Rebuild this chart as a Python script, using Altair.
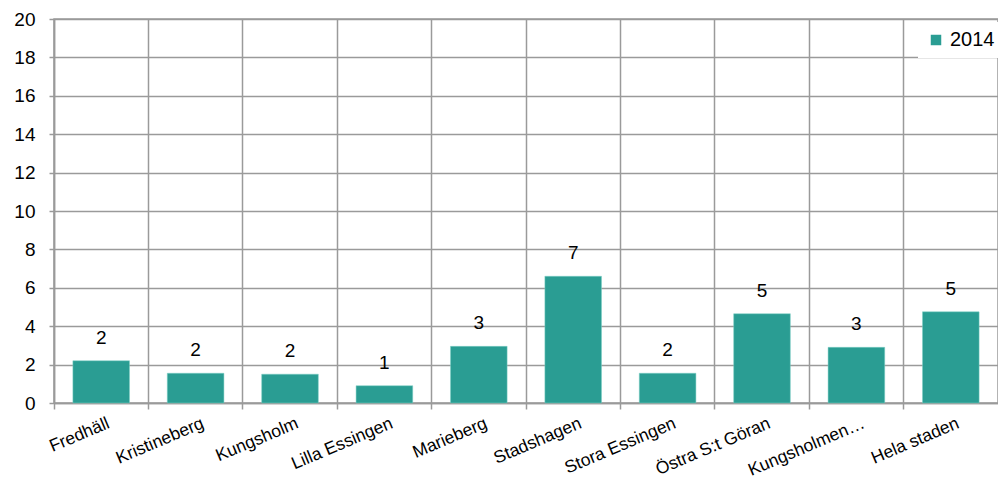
import altair as alt
import pandas as pd

categories = ["Fredhäll", "Kristineberg", "Kungsholm", "Lilla Essingen", "Marieberg",
              "Stadshagen", "Stora Essingen", "Östra S:t Göran", "Kungsholmen…", "Hela staden"]
values = [2.2, 1.55, 1.5, 0.9, 2.95, 6.6, 1.55, 4.65, 2.9, 4.75]
labels = ["2", "2", "2", "1", "3", "7", "2", "5", "3", "5"]
year = "2014"

df = pd.DataFrame({"omr": categories, "v": values, "lab": labels, "year": [year] * len(categories)})

GRID = "#9a9a9a"
TEAL = "#2a9d93"
FONT = "Liberation Sans"

xscale = alt.Scale(paddingInner=0, paddingOuter=0)
yscale = alt.Scale(domain=[0, 20], nice=False)


def yaxis():
    return alt.Axis(values=list(range(0, 21, 2)), grid=True, gridColor=GRID, gridWidth=1.5,
                    domainColor=GRID, domainWidth=1.5, tickColor=GRID, tickWidth=1.5, tickSize=5,
                    labelOverlap=False, labelPadding=14,
                    labelFont=FONT, labelFontSize=19, labelColor="#000")


# layer carrying the category boundary grid and ticks
gridlayer = alt.Chart(df).mark_tick(opacity=0).encode(
    x=alt.X("omr:N", sort=categories, title=None, scale=xscale,
            axis=alt.Axis(orient="bottom", bandPosition=0, grid=True, gridColor=GRID, gridWidth=1.5,
                          labels=False, domainColor=GRID, domainWidth=1.5,
                          tickColor=GRID, tickWidth=1.5, tickSize=6)),
    y=alt.Y("v:Q", title=None, scale=yscale, axis=yaxis())
)

# layer carrying the category labels (centered, no ticks)
bars = alt.Chart(df).mark_bar(width=alt.RelativeBandSize(0.6), stroke="#7fd0c6", strokeWidth=0.5).encode(
    x=alt.X("omr:N", sort=categories, title=None, scale=xscale,
            axis=alt.Axis(orient="bottom", ticks=False, domain=False, grid=False,
                          labelAngle=-23, labelAlign="right", labelBaseline="top",
                          labelFont=FONT, labelFontSize=17.5, labelColor="#000", labelPadding=11,
                          labelOffset=4, labelLimit=300)),
    y=alt.Y("v:Q", title=None, scale=yscale, axis=yaxis()),
    color=alt.Color("year:N", scale=alt.Scale(range=[TEAL]), title=None,
                    legend=alt.Legend(orient="none", legendX=864, legendY=3,
                                      fillColor="white", padding=8,
                                      symbolType="square", symbolSize=110, symbolStrokeWidth=0,
                                      labelFont=FONT, labelFontSize=20, labelColor="#000",
                                      labelOffset=4))
)

text = alt.Chart(df).mark_text(baseline="bottom", dy=-13, font=FONT, fontSize=19, color="#000").encode(
    x=alt.X("omr:N", sort=categories, scale=xscale, axis=None),
    y=alt.Y("v:Q", title=None, scale=yscale, axis=yaxis()),
    text="lab:N"
)

chart = alt.layer(gridlayer, bars, text).resolve_axis(x="independent").properties(
    width=944, height=384,
    autosize=alt.AutoSizeParams(type="none"),
    padding={"left": 46, "top": 11, "right": 0, "bottom": 75}
).configure_view(stroke=GRID, strokeWidth=1.5).configure_axisY(labelPadding=14)

chart.save("out.html", embed_options={"renderer": "svg", "actions": False})
